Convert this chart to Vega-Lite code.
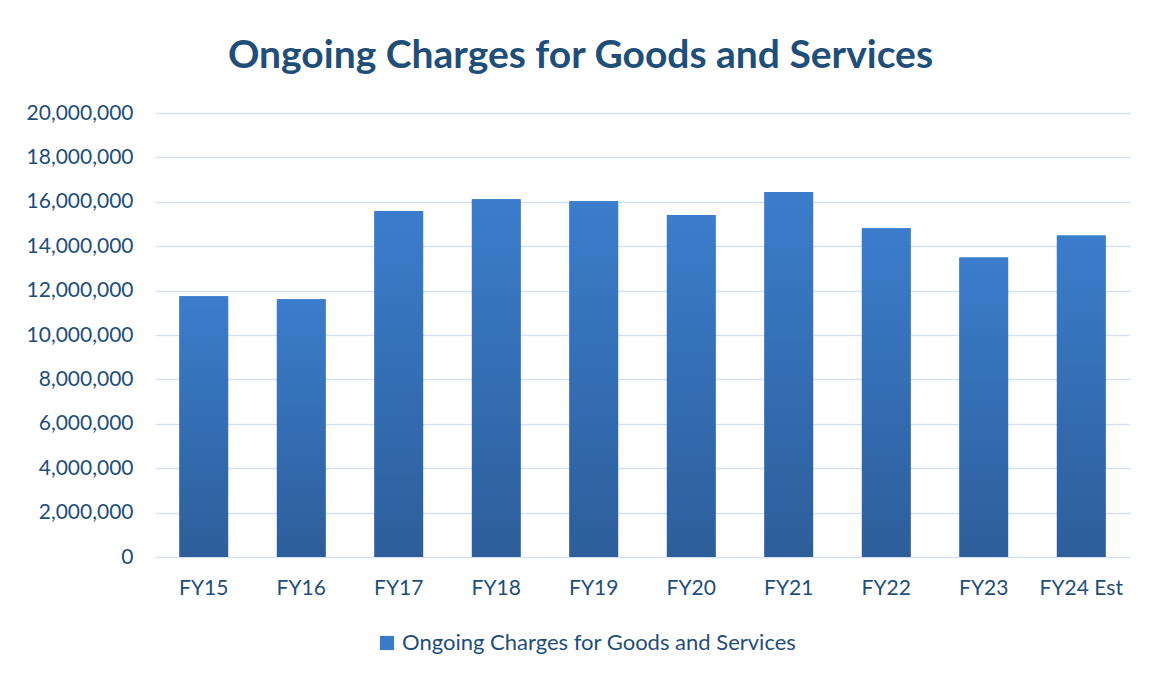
{
  "$schema": "https://vega.github.io/schema/vega-lite/v6.json",
  "width": 975,
  "height": 444,
  "autosize": {"type": "none"},
  "padding": {"left": 155, "top": 113, "right": 20, "bottom": 120},
  "background": "white",
  "title": {
    "text": "Ongoing Charges for Goods and Services",
    "font": "Lato",
    "fontSize": 39,
    "fontWeight": "bold",
    "color": "#1F4E79",
    "anchor": "middle",
    "dx": -62,
    "offset": 26
  },
  "data": {
    "values": [
      {"year": "FY15", "value": 11740000, "series": "Ongoing Charges for Goods and Services"},
      {"year": "FY16", "value": 11610000, "series": "Ongoing Charges for Goods and Services"},
      {"year": "FY17", "value": 15580000, "series": "Ongoing Charges for Goods and Services"},
      {"year": "FY18", "value": 16120000, "series": "Ongoing Charges for Goods and Services"},
      {"year": "FY19", "value": 16030000, "series": "Ongoing Charges for Goods and Services"},
      {"year": "FY20", "value": 15400000, "series": "Ongoing Charges for Goods and Services"},
      {"year": "FY21", "value": 16440000, "series": "Ongoing Charges for Goods and Services"},
      {"year": "FY22", "value": 14810000, "series": "Ongoing Charges for Goods and Services"},
      {"year": "FY23", "value": 13490000, "series": "Ongoing Charges for Goods and Services"},
      {"year": "FY24 Est", "value": 14480000, "series": "Ongoing Charges for Goods and Services"}
    ]
  },
  "encoding": {
    "x": {
      "field": "year",
      "type": "nominal",
      "sort": null,
      "scale": {"paddingInner": 0.5, "paddingOuter": 0.25},
      "axis": {
        "title": null,
        "labelAngle": 0,
        "labelFont": "Lato",
        "labelFontSize": 21,
        "labelColor": "#1F4E79",
        "labelPadding": 20,
        "ticks": false,
        "domain": false
      }
    },
    "y": {
      "field": "value",
      "type": "quantitative",
      "scale": {"domain": [0, 20000000]},
      "axis": {
        "title": null,
        "values": [0, 2000000, 4000000, 6000000, 8000000, 10000000, 12000000, 14000000, 16000000, 18000000, 20000000],
        "format": ",d",
        "labelFont": "Lato",
        "labelFontSize": 21,
        "labelColor": "#1F4E79",
        "labelPadding": 22,
        "ticks": false,
        "domain": false,
        "grid": true,
        "gridColor": "#D6E2F2",
        "gridWidth": 1.5
      }
    }
  },
  "layer": [
    {
      "mark": {"type": "bar"},
      "encoding": {
        "color": {
          "field": "series",
          "type": "nominal",
          "scale": {"range": ["#3A7BC8"]},
          "legend": {
            "title": null,
            "orient": "none",
            "legendX": 221,
            "legendY": 519,
            "symbolType": "square",
            "symbolSize": 200,
            "labelFont": "Lato",
            "labelFontSize": 22,
            "labelColor": "#1F4E79",
            "labelOffset": 4,
            "labelLimit": 600
          }
        }
      }
    },
    {
      "mark": {
        "type": "bar",
        "color": {
          "gradient": "linear",
          "x1": 0, "y1": 0, "x2": 0, "y2": 1,
          "stops": [
            {"offset": 0, "color": "#3B7DCC"},
            {"offset": 1, "color": "#2D5E9A"}
          ]
        }
      }
    }
  ],
  "config": {"view": {"stroke": null}}
}
